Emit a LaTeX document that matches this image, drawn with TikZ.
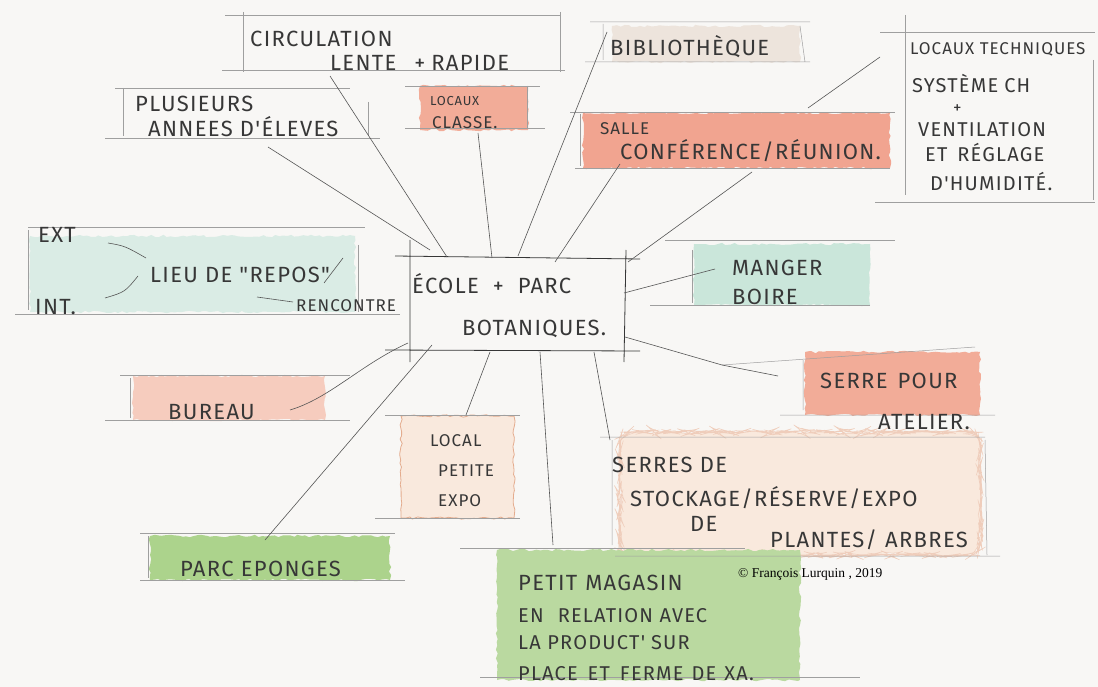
\documentclass[tikz,border=0pt]{standalone}
\usepackage{fontspec}
\setmainfont{Liberation Sans}
\newfontfamily\hand{Fira Sans}[LetterSpace=6]
\newfontfamily\copyfont{Liberation Serif}
\usetikzlibrary{decorations.pathmorphing}
\definecolor{paper}{RGB}{248,247,245}
\definecolor{ink}{RGB}{55,55,55}
\definecolor{salmon}{RGB}{242,172,152}
\definecolor{salmonL}{RGB}{246,204,190}
\definecolor{salmonS}{RGB}{241,164,144}
\definecolor{mint}{RGB}{202,230,218}
\definecolor{mintL}{RGB}{218,236,229}
\definecolor{beige}{RGB}{237,228,220}
\definecolor{peach}{RGB}{249,233,221}
\definecolor{peachEdge}{RGB}{228,172,142}
\definecolor{leaf}{RGB}{172,211,140}
\definecolor{leafL}{RGB}{186,217,160}
\tikzset{
  hw/.style={font=\hand\fontsize{22}{26}\selectfont, text=ink, inner sep=0pt, anchor=base west},
  hws/.style={hw, font=\hand\fontsize{17}{20}\selectfont},
  hwm/.style={hw, font=\hand\fontsize{20}{24}\selectfont},
  guide/.style={draw=gray!75, line width=0.5pt},
  conn/.style={draw=ink!85, line width=0.6pt},
  wash/.style={decorate, decoration={random steps, segment length=4pt, amplitude=1.2pt}}
}
\begin{document}
\begin{tikzpicture}[x=1pt,y=-1pt]
\useasboundingbox (0,0) rectangle (1098,687);
\fill[paper] (0,0) rectangle (1098,687);

% ---------- watercolour washes ----------
\fill[salmon, wash] (420,86) rectangle (528,130);
\fill[beige, wash] (612,26) rectangle (800,62);
\fill[salmonS, wash] (583,113) rectangle (890,168);
\fill[mintL, wash] (30,236) rectangle (355,312);
\fill[mint, wash] (694,244) rectangle (870,305);
\fill[salmon, wash] (805,352) rectangle (980,415);
\fill[salmonL, wash] (133,376) rectangle (325,420);
\fill[peach, wash, draw=peachEdge, line width=0.8pt] (401,416) rectangle (514,518);
\fill[peach, wash, draw=peachEdge!60, line width=0.5pt, rounded corners=12pt] (620,432) rectangle (980,555);
\fill[leaf, wash] (150,536) rectangle (390,580);
\fill[leafL, wash] (497,550) rectangle (800,680);

% ---------- guide frames ----------
\draw[guide] (225,15) -- (560,15) (222,70) -- (565,70) (243,12) -- (243,72) (560,12) -- (560,72);
\draw[guide] (115,88) -- (350,88) (105,138) -- (380,138) (123,88) -- (123,136) (368,102) -- (368,136);
\draw[guide] (405,86) -- (540,86) (405,128) -- (545,128) (527,86) -- (527,128);
\draw[guide] (590,22) -- (810,22) (585,62) -- (810,62) (603,24) -- (603,60) (800,26) -- (805,62);
\draw[guide] (570,112) -- (895,112) (575,168) -- (890,168) (580,114) -- (580,166);
\draw[guide] (880,32) -- (1095,32) (875,202) -- (1095,202) (905,15) -- (905,195) (1093,60) -- (1093,200);
\draw[guide] (28,227) -- (365,227) (15,314) -- (400,314) (28,230) -- (28,310) (358,245) -- (358,312);
\draw[guide] (665,240) -- (895,240) (650,305) -- (870,305) (692,250) -- (692,303);
\draw[guide] (722,365) -- (975,347) (780,415) -- (995,415) (803,360) -- (803,410);
\draw[guide] (120,375) -- (350,375) (105,420) -- (350,420) (130,378) -- (130,418);
\draw[guide] (385,415) -- (520,415) (375,518) -- (520,518);
\draw[guide] (600,437) -- (985,437) (615,556) -- (1000,556) (612,440) -- (612,545) (985,440) -- (987,555);
\draw[guide] (140,533) -- (395,533) (140,580) -- (405,580) (148,536) -- (148,578);
\draw[guide] (460,548) -- (745,548) (480,677) -- (860,677);

% ---------- central box ----------
\node[draw=none, minimum width=215pt, minimum height=95pt, inner sep=0pt] (hub) at (517.5,302.5) {};
\draw[ink, line width=0.8pt] (395,256) -- (640,259) (385,350) -- (640,351)
  (410,240) -- (410,362) (626,250) -- (624,362);
\node[hw] (t-ecole) at (412,293) {ÉCOLE\hspace{14pt}+\hspace{14pt}PARC};
\node[hw] (t-bota) at (462,335) {BOTANIQUES.};

% ---------- texts ----------
\node[hw] (t-circ) at (250,47) {CIRCULATION};
\node[hw] (t-lente) at (330,71) {LENTE\hspace{18pt}+\hspace{6pt}RAPIDE};
\node[hw] (t-plus) at (135,112) {PLUSIEURS};
\node[hw] (t-annees) at (148,137) {ANNEES D'ÉLEVES};
\node[hws, font=\hand\fontsize{13}{15}\selectfont] (t-locaux) at (430,106) {LOCAUX};
\node[hws] (t-classe) at (432,129) {CLASSE.};
\node[hw] (t-biblio) at (610,56) {BIBLIOTHÈQUE};
\node[hws] (t-salle) at (600,135) {SALLE};
\node[hw] (t-conf) at (620,160) {CONFÉRENCE/RÉUNION.};
\node[hws] (t-tech) at (910,55) {LOCAUX TECHNIQUES};
\node[hwm] (t-syst) at (912,93) {SYSTÈME\hspace{6pt}CH};
\node[hws] (t-plus2) at (953,114) {+};
\node[hwm] (t-vent) at (918,137) {VENTILATION};
\node[hwm] (t-regl) at (925,162) {ET\hspace{10pt}RÉGLAGE};
\node[hwm] (t-humi) at (930,191) {D'HUMIDITÉ.};
\node[hw] (t-ext) at (38,243) {EXT};
\node[hw] (t-int) at (35,314) {INT.};
\node[hw] (t-lieu) at (150,282) {LIEU DE "REPOS"};
\node[hws] (t-renc) at (296,311) {RENCONTRE};
\node[hw] (t-manger) at (732,276) {MANGER};
\node[hw] (t-boire) at (732,305) {BOIRE};
\node[hw] (t-serre) at (820,388) {SERRE\hspace{10pt}POUR};
\node[hw] (t-atelier) at (878,429) {ATELIER.};
\node[hw] (t-bureau) at (168,419) {BUREAU};
\node[hws] (t-local) at (430,446) {LOCAL};
\node[hws] (t-petite) at (438,476) {PETITE};
\node[hws] (t-expo) at (438,506) {EXPO};
\node[hw] (t-serres) at (612,472) {SERRES DE};
\node[hw] (t-stock) at (630,506) {STOCKAGE/RÉSERVE/EXPO};
\node[hw] (t-de) at (690,531) {DE};
\node[hw] (t-plantes) at (770,547) {PLANTES/\hspace{8pt}ARBRES};
\node[hw] (t-parc) at (180,576) {PARC EPONGES};
\node[hw] (t-petit) at (518,590) {PETIT\hspace{8pt}MAGASIN};
\node[hwm] (t-rel) at (518,622) {EN\hspace{14pt}RELATION AVEC};
\node[hwm] (t-prod) at (518,649) {LA PRODUCT'\hspace{6pt}SUR};
\node[hwm] (t-place) at (518,680) {PLACE\hspace{10pt}ET\hspace{10pt}FERME\hspace{8pt}DE\hspace{8pt}XA.};
\node[font=\copyfont\fontsize{13.5}{16}\selectfont, text=black, inner sep=0pt, anchor=base west] (copy) at (738,577) {© François Lurquin , 2019};

% ---------- connector end points ----------
\coordinate (a1) at (330,76);  \coordinate (b1) at (447,257);
\coordinate (a2) at (268,147); \coordinate (b2) at (430,250);
\coordinate (a3) at (478,133); \coordinate (b3) at (492,258);
\coordinate (a4) at (607,32);  \coordinate (b4) at (518,256);
\coordinate (a5) at (620,164); \coordinate (b5) at (555,262);
\coordinate (a6) at (752,172); \coordinate (b6) at (628,262);
\coordinate (a7) at (880,57);  \coordinate (b7) at (808,108);
\coordinate (a8) at (715,269); \coordinate (b8) at (624,293);
\coordinate (a9) at (778,376); \coordinate (m9) at (722,365); \coordinate (b9) at (625,337);
\coordinate (a10) at (290,410); \coordinate (b10) at (408,343);
\coordinate (a11) at (265,540); \coordinate (b11) at (432,345);
\coordinate (a12) at (466,415); \coordinate (b12) at (490,352);
\coordinate (a13) at (553,545); \coordinate (b13) at (540,352);
\coordinate (a14) at (610,440); \coordinate (b14) at (594,352);
\coordinate (e1) at (108,243); \coordinate (e2) at (146,258);
\coordinate (i1) at (105,298); \coordinate (i2) at (138,276);
\coordinate (r1) at (343,258); \coordinate (r2) at (324,283);
\coordinate (r3) at (257,297); \coordinate (r4) at (293,302);

\draw[conn] (a1) -- (b1);
\draw[conn] (a2) -- (b2);
\draw[conn] (a3) -- (b3);
\draw[conn] (a4) -- (b4);
\draw[conn] (a5) -- (b5);
\draw[conn] (a6) -- (b6);
\draw[conn] (a7) -- (b7);
\draw[conn] (a8) -- (b8);
\draw[conn] (a9) -- (m9) -- (b9);
\draw[conn] (a10) .. controls (330,398) and (360,365) .. (b10);
\draw[conn] (a11) -- (b11);
\draw[conn] (a12) -- (b12);
\draw[conn] (a13) -- (b13);
\draw[conn] (a14) -- (b14);
\draw[conn] (e1) .. controls (125,246) .. (e2);
\draw[conn] (i1) .. controls (125,292) .. (i2);
\draw[conn] (r1) -- (r2);
\draw[conn] (r3) .. controls (275,300) .. (r4);
\end{tikzpicture}
\end{document}
